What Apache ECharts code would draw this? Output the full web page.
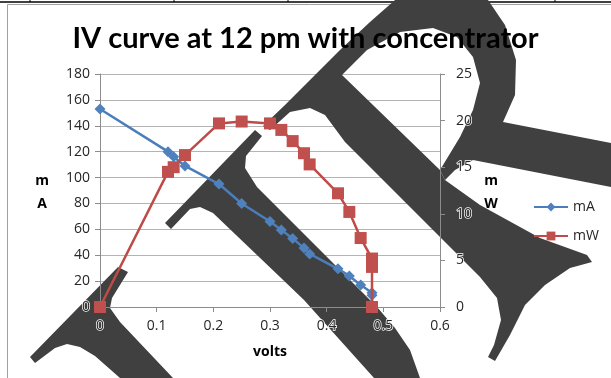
<!DOCTYPE html>
<html><head><meta charset="utf-8">
<script src="https://cdn.jsdelivr.net/npm/echarts@6/dist/echarts.min.js"></script>
<style>html,body{margin:0;padding:0;background:#fff}#c{width:611px;height:378px}</style>
</head><body><div id="c"></div>
<script>
// ---- data ----
const titleText = 'IV curve at 12 pm with concentrator';
const xAxisName = 'volts';
const leftAxisName = 'm\nA';
const rightAxisName = 'm\nW';
const seriesNames = ['mA', 'mW'];
const volts = [0, 0.12, 0.13, 0.15, 0.21, 0.25, 0.30, 0.32, 0.34, 0.36, 0.37, 0.42, 0.44, 0.46, 0.48, 0.48, 0.48];
const mA    = [153, 120, 116, 109, 95, 80, 66, 59.5, 53, 45.5, 41, 29.5, 24, 17, 11, 9, 0];
const mW    = [0, 14.5, 15.0, 16.3, 19.7, 19.9, 19.7, 19.0, 17.8, 16.5, 15.3, 12.2, 10.2, 7.4, 5.2, 4.3, 0];
const xScale = [0, 0.6, 0.1];      // min, max, interval
const leftScale = [0, 180, 20];
const rightScale = [0, 25, 5];

// ---- decoration (background watermark shapes, not data) ----
const WM = '#404040';
const wmShapes = [
  [[30,357],[118,267],[128,272],[112,298],[110,308],[120,322],[173,378],[120,378],[95,356],[80,347],[67,344],[55,348],[35,363]],
  [[165,223],[255,130],[262,136],[246,156],[245,168],[257,187],[377,307],[395,328],[410,350],[420,378],[374,378],[304,300],[280,277],[213,213],[200,207],[190,209],[171,229]],
  [[433,0],[395,0],[370,22],[340,50],[310,80],[285,105],[263,126],[270,130],[290,112],[310,108],[325,115],[345,142],[480,277],[497,298],[501,320],[494,345],[488,357],[495,361],[510,335],[525,305],[545,285],[570,268],[592,262],[587,255],[540,238],[480,205],[445,180],[440,170],[342,75],[367,50],[400,32],[433,28]],
  [[433,0],[488,0],[505,25],[516,60],[515,95],[503,122],[611,143],[611,187],[473,160],[455,170],[445,180],[440,170],[460,137],[473,110],[480,83],[473,57],[457,37],[433,28]]
];

const FONT = '"Open Sans", "Liberation Sans", sans-serif';
const TXT = '#262626';
const GRID = '#b4b4b4';
const AXIS = '#8c8c8c';

const labelStyle = {color: TXT, fontSize: 14, fontFamily: FONT, textBorderColor: '#fff', textBorderWidth: 1.5};

const chart = echarts.init(document.getElementById('c'), null, {renderer: 'canvas'});
const pts = (ys) => volts.map((v, i) => [v, ys[i]]);

const graphics = [
  {type: 'line', shape: {x1: 0, y1: 2, x2: 611, y2: 2}, style: {stroke: '#000', lineWidth: 1.5}, z: 0},
  ...[30, 174, 288, 401, 555].map(x => ({type: 'line', shape: {x1: x, y1: 0, x2: x, y2: 2}, style: {stroke: '#000', lineWidth: 1}, z: 0})),
  {type: 'rect', shape: {x: 7.5, y: 4.5, width: 700, height: 400}, style: {stroke: '#a0a0a0', fill: null, lineWidth: 1}, z: 0},
  ...wmShapes.map(p => ({type: 'polygon', shape: {points: p}, style: {fill: WM}, z: 1})),
  {type: 'text', x: 42, y: 170, z: 5, style: {text: leftAxisName, font: 'bold 14px ' + FONT, fill: '#000', lineHeight: 23, align: 'center'}},
  {type: 'text', x: 491, y: 170, z: 5, style: {text: rightAxisName, font: 'bold 14px ' + FONT, fill: '#000', lineHeight: 23, align: 'center'}}
];

chart.setOption({
  animation: false,
  backgroundColor: '#fff',
  title: {text: titleText, left: 'center', top: 19, z: 6,
    textStyle: {fontFamily: 'Lato, "Open Sans", sans-serif', fontWeight: 'bold', fontSize: 29, color: '#000'}},
  legend: {orient: 'vertical', left: 528, top: 195, itemWidth: 34, itemHeight: 11, itemGap: 15, z: 6,
    textStyle: {fontFamily: FONT, fontSize: 14, color: TXT}, data: seriesNames},
  grid: {left: 100, right: 171, top: 74, bottom: 71, containLabel: false},
  xAxis: {type: 'value', min: xScale[0], max: xScale[1], interval: xScale[2], z: 3,
    name: xAxisName, nameLocation: 'middle', nameGap: 38,
    nameTextStyle: {fontFamily: FONT, fontWeight: 'bold', fontSize: 14, color: '#000'},
    axisLine: {show: true, lineStyle: {color: AXIS, width: 1}},
    axisTick: {show: true, inside: false, length: 5, lineStyle: {color: AXIS}},
    axisLabel: Object.assign({margin: 12}, labelStyle),
    splitLine: {show: false}},
  yAxis: [
    {type: 'value', position: 'left', min: leftScale[0], max: leftScale[1], interval: leftScale[2], z: 3,
      axisLine: {show: true, lineStyle: {color: AXIS}},
      axisTick: {show: true, length: 5, lineStyle: {color: AXIS}},
      axisLabel: Object.assign({margin: 10}, labelStyle),
      splitLine: {show: false}},
    {type: 'value', position: 'right', min: rightScale[0], max: rightScale[1], interval: rightScale[2], z: 3,
      axisLine: {show: true, lineStyle: {color: AXIS}},
      axisTick: {show: true, length: 5, lineStyle: {color: AXIS}},
      axisLabel: Object.assign({margin: 16}, labelStyle),
      splitLine: {show: false}},
    {type: 'value', position: 'left', min: leftScale[0], max: leftScale[1], interval: leftScale[2], z: 0,
      axisLine: {show: false}, axisTick: {show: false}, axisLabel: {show: false},
      splitLine: {show: true, lineStyle: {color: GRID, width: 1}}}
  ],
  series: [
    {name: seriesNames[0], type: 'line', yAxisIndex: 0, data: pts(mA), z: 4,
      symbol: 'diamond', symbolSize: 11, showAllSymbol: true,
      lineStyle: {color: '#4A7EBB', width: 2.5}, itemStyle: {color: '#4F81BD'}},
    {name: seriesNames[1], type: 'line', yAxisIndex: 1, data: pts(mW), z: 5,
      symbol: 'rect', symbolSize: 12, showAllSymbol: true,
      lineStyle: {color: '#BE4B48', width: 2.5}, itemStyle: {color: '#C0504D'}}
  ],
  graphic: graphics
});
</script></body></html>
